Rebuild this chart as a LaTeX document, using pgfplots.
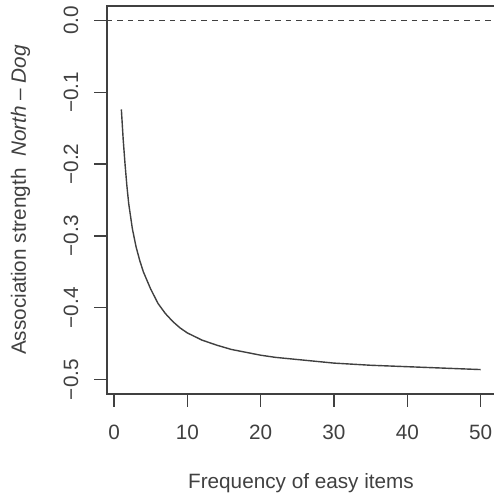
\documentclass[border=0pt]{standalone}
\usepackage{pgfplots}
\pgfplotsset{compat=1.18}
\usepackage{fontspec}
\setmainfont{Liberation Sans}

\definecolor{ink}{gray}{0.25}

\begin{document}
\fontsize{20.8}{25}\selectfont
\begin{tikzpicture}
\begin{axis}[
  name=ax,
  scale only axis,
  width=388bp, height=388bp,
  xmin=-0.96, xmax=51.96,
  ymin=-0.52, ymax=0.02,
  axis line style={ink, line width=1.3bp},
  xtick={0,10,20,30,40,50},
  ytick={-0.5,-0.4,-0.3,-0.2,-0.1,0},
  yticklabels={−0.5,−0.4,−0.3,−0.2,−0.1,0.0},
  xtick pos=bottom, ytick pos=left,
  tick align=outside,
  major tick length=12.5bp,
  tick style={ink, line width=1.3bp},
  xticklabel style={anchor=north, inner sep=0pt, text=ink},
  xticklabel shift=18bp,
  yticklabel style={rotate=90, anchor=south, inner sep=0pt, text=ink},
  yticklabel shift=16bp,
  /pgf/number format/assume math mode=true,
  clip=true,
]
  % reference level at zero
  \addplot[ink, line width=1.3bp, dash pattern=on 5.5bp off 5bp]
    coordinates {(-0.96,0) (51.96,0)};
  % association strength against frequency of easy items
  \addplot[ink, line width=1.4bp] table[row sep=\\] {
    x y \\
    1 -0.124 \\
    1.25 -0.166 \\
    1.5 -0.200 \\
    1.75 -0.230 \\
    2 -0.255 \\
    2.5 -0.290 \\
    3 -0.315 \\
    3.5 -0.334 \\
    4 -0.350 \\
    5 -0.374 \\
    6 -0.394 \\
    7 -0.408 \\
    8 -0.419 \\
    9 -0.428 \\
    10 -0.435 \\
    12 -0.445 \\
    14 -0.452 \\
    16 -0.458 \\
    18 -0.462 \\
    20 -0.466 \\
    22 -0.469 \\
    25 -0.472 \\
    28 -0.475 \\
    30 -0.477 \\
    35 -0.480 \\
    40 -0.482 \\
    45 -0.484 \\
    50 -0.486 \\
  };
\end{axis}
\node[anchor=base, text=ink] at ([yshift=-94bp]ax.south) {Frequency of easy items};
\node[rotate=90, anchor=base, text=ink] at ([xshift=-81bp]ax.west)
  {Association strength\ \ \textit{North} – \textit{Dog}};
\pgfresetboundingbox
\path[use as bounding box] ([xshift=-107bp,yshift=-103bp]ax.south west)
  rectangle ([xshift=387bp,yshift=6bp]ax.north west);
\end{tikzpicture}
\end{document}
